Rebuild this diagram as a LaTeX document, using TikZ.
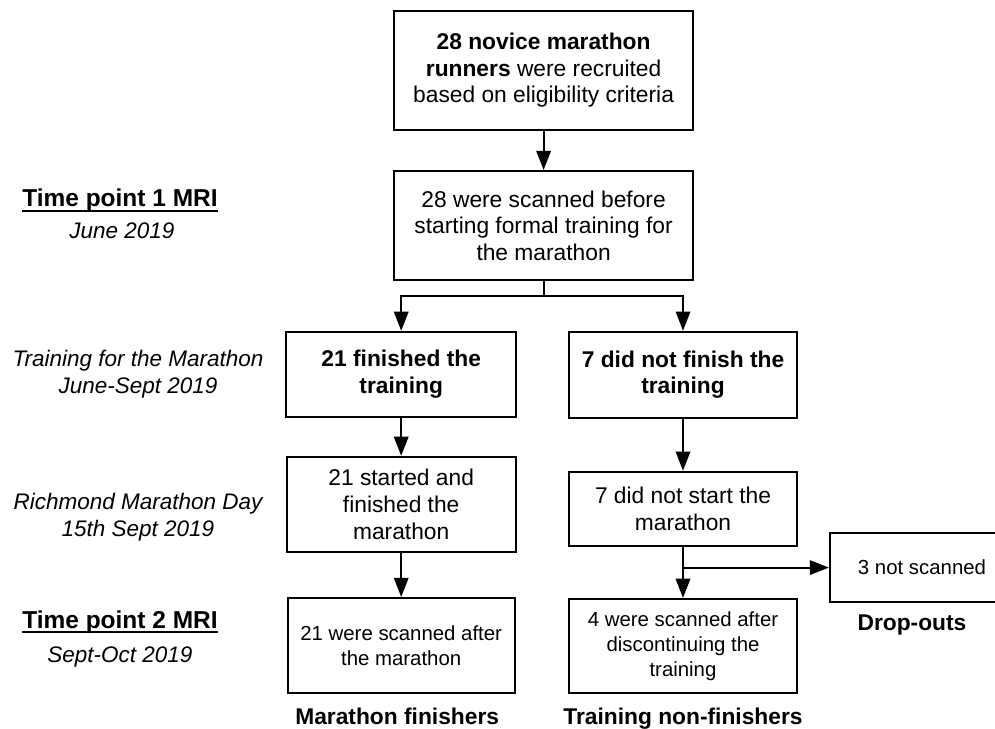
\documentclass[tikz,border=0pt]{standalone}
\usepackage{fontspec}
\setmainfont{Liberation Sans}
\usetikzlibrary{arrows.meta}
\newcommand{\mriline}[1]{\setbox0=\hbox{#1}\rlap{\rule[-3.4pt]{\wd0}{1.4pt}}\box0}

\begin{document}
\begin{tikzpicture}[line width=1.5pt,>={Triangle[length=0.48cm,width=0.36cm]},
    box/.style={draw,align=center,inner sep=0pt,font=\fontsize{16.2}{19}\selectfont},
    smallbox/.style={box,font=\fontsize{14.5}{17.6}\selectfont},
    side/.style={align=center,font=\fontsize{16}{19.2}\selectfont\itshape},
    grp/.style={anchor=base,font=\fontsize{16.2}{19}\selectfont\bfseries}]
  \clip (0,0) rectangle (24.875,18.2);
  % main column
  \node[box,minimum width=7.475cm,minimum height=2.975cm] (recruit) at (13.59,16.44)
        {\textbf{28 novice marathon}\\\textbf{runners} were recruited\\based on eligibility criteria};
  \node[box,minimum width=7.475cm,minimum height=2.725cm] (scan1) at (13.59,12.56)
        {28 were scanned before\\starting formal training for\\the marathon};
  \coordinate (split) at (13.59,10.8);
  % finishers (left)
  \node[box,font=\fontsize{16.2}{19}\selectfont\bfseries,minimum width=5.75cm,minimum height=2.125cm]
        (fin) at (10.03,8.84) {21 finished the\\training};
  \node[box,minimum width=5.725cm,minimum height=2.375cm] (started) at (10.03,5.59)
        {21 started and\\finished the\\marathon};
  \node[smallbox,minimum width=5.675cm,minimum height=2.375cm] (scan2) at (10.03,2.06)
        {21 were scanned after\\the marathon};
  % non-finishers (right)
  \node[box,font=\fontsize{16.2}{19}\selectfont\bfseries,minimum width=5.7cm,minimum height=2.15cm]
        (nofin) at (17.075,8.83) {7 did not finish the\\training};
  \node[box,minimum width=5.7cm,minimum height=1.85cm] (nostart) at (17.075,5.48)
        {7 did not start the\\marathon};
  \node[smallbox,minimum width=5.7cm,minimum height=2.35cm] (scan3) at (17.075,2.05)
        {4 were scanned after\\discontinuing the\\training};
  \node[smallbox,minimum width=4.6cm,minimum height=1.725cm] (drop) at (23.05,4.01)
        {3 not scanned};
  % arrows
  \draw[->] (recruit) -- (scan1);
  \draw (scan1) -- (split);
  \draw[->] (split) -| (fin);
  \draw[->] (split) -| (nofin);
  \draw[->] (fin) -- (started);
  \draw[->] (started) -- (scan2);
  \draw[->] (nofin) -- (nostart);
  \draw[->] (nostart) -- (scan3);
  \draw[->] (nostart.south |- drop.west) -- (drop);
  % time line on the left
  \node[grp,font=\fontsize{17.4}{20}\selectfont\bfseries] (tp1) at (3.0,13.03) {\mriline{Time point 1 MRI}};
  \node[side,anchor=base] (june) at (3.05,12.23) {June 2019};
  \node[side] (train) at (3.45,8.84) {Training for the Marathon\\June-Sept 2019};
  \node[side] (race) at (3.45,5.26) {Richmond Marathon Day\\15th Sept 2019};
  \node[grp,font=\fontsize{17.4}{20}\selectfont\bfseries] (tp2) at (3.0,2.49) {\mriline{Time point 2 MRI}};
  \node[side,anchor=base] (oct) at (3.0,1.63) {Sept-Oct 2019};
  % group names
  \node[grp] (finlbl) at (9.93,0.1) {Marathon finishers};
  \node[grp] (nofinlbl) at (17.075,0.1) {Training non-finishers};
  \node[grp] (droplbl) at (22.8,2.45) {Drop-outs};
\end{tikzpicture}
\end{document}
